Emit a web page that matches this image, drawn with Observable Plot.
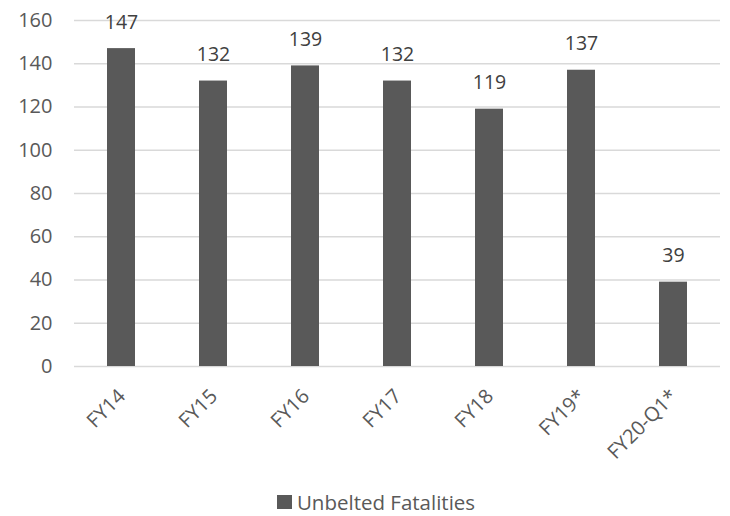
<!DOCTYPE html>
<html>
<head>
<meta charset="utf-8">
<script src="https://cdn.jsdelivr.net/npm/d3@7"></script>
<script src="https://cdn.jsdelivr.net/npm/@observablehq/plot@0.6"></script>
<style>
  html, body { margin: 0; padding: 0; background: #fff; }
  body { position: relative; width: 730px; height: 516px; overflow: hidden; }
  #chart { width: 730px; }
  .legend { position: absolute; left: 0; top: 492px; width: 730px; box-sizing: border-box; padding-left: 22px; display: flex; justify-content: center; align-items: center; height: 20px; line-height: 20px; font-family: "Open Sans", sans-serif; font-size: 20.5px; color: #595959; }
  .legend .sw { width: 15px; height: 14px; background: #595959; margin-right: 5px; }
</style>
</head>
<body>
<div id="chart"></div>
<script>
const categories = ["FY14", "FY15", "FY16", "FY17", "FY18", "FY19*", "FY20-Q1*"];
const values = [147, 132, 139, 132, 119, 137, 39];
const yTicks = [0, 20, 40, 60, 80, 100, 120, 140, 160];
const seriesName = "Unbelted Fatalities";

const data = categories.map((c, i) => ({category: c, value: values[i]}));

const chart = Plot.plot({
  width: 730,
  height: 490,
  marginTop: 20,
  marginBottom: 124,
  marginLeft: 74,
  marginRight: 10,
  style: {fontFamily: "'Open Sans', sans-serif", fontSize: "20px", color: "#595959", background: "#fff"},
  x: {domain: categories, paddingInner: 0.7, paddingOuter: 0.35, label: null, axis: null},
  y: {domain: [0, 160], ticks: yTicks, label: null, axis: null},
  marks: [
    Plot.gridY(yTicks, {stroke: "#d9d9d9", strokeOpacity: 1, strokeWidth: 1.3}),
    Plot.axisY(yTicks, {tickSize: 0, tickPadding: 22, fontSize: 20, fill: "#595959", label: null}),
    Plot.barY(data, {x: "category", y: "value", fill: "#595959"}),
    Plot.text(data, {x: "category", y: "value", text: d => String(d.value), dy: -20, lineAnchor: "bottom", fontSize: 19.5, fill: "#404040"}),
    Plot.axisX(categories, {tickSize: 0, tickRotate: -45, tickPadding: 31, fontSize: 20, fill: "#595959", label: null, textAnchor: "end", lineAnchor: "bottom", dx: 5})
  ]
});
document.getElementById("chart").appendChild(chart);

const legend = document.createElement("div");
legend.className = "legend";
legend.innerHTML = `<span class="sw"></span><span></span>`;
legend.lastChild.textContent = seriesName;
document.body.appendChild(legend);
</script>
</body>
</html>
